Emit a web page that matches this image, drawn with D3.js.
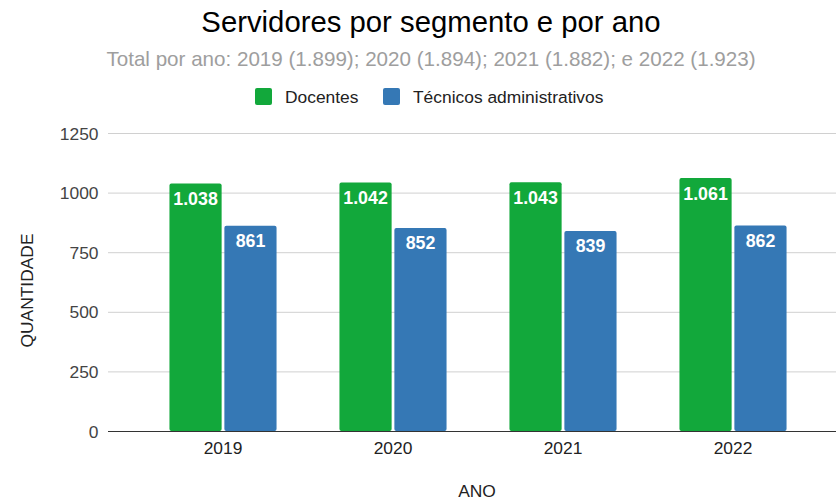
<!DOCTYPE html>
<html>
<head>
<meta charset="utf-8">
<script src="https://cdn.jsdelivr.net/npm/d3@7"></script>
<style>
  body { margin: 0; background: #fff; }
  text { font-family: Arial, "Liberation Sans", sans-serif; }
</style>
</head>
<body>
<div id="chart"></div>
<script>
// Data
var years = ["2019", "2020", "2021", "2022"];
var docentes = [1038, 1042, 1043, 1061];
var tecnicos = [861, 852, 839, 862];
var seriesNames = ["Docentes", "Técnicos administrativos"];
var seriesColors = ["#12a83b", "#3578b5"];
var yTicks = [0, 250, 500, 750, 1000, 1250];

var width = 836;
var height = 501;
var fontSize = 17.4;

var svg = d3.select("#chart")
  .append("svg")
  .attr("width", width)
  .attr("height", height);

// Titles
svg.append("text")
  .attr("x", 431).attr("y", 32)
  .attr("text-anchor", "middle")
  .attr("font-size", 29.3)
  .attr("fill", "#000")
  .text("Servidores por segmento e por ano");

svg.append("text")
  .attr("x", 431).attr("y", 66)
  .attr("text-anchor", "middle")
  .attr("font-size", 20.6)
  .attr("fill", "#9e9e9e")
  .text("Total por ano: 2019 (1.899); 2020 (1.894); 2021 (1.882); e 2022 (1.923)");

// Legend
var legendX = [255, 383];
seriesNames.forEach(function(name, i) {
  svg.append("rect")
    .attr("x", legendX[i]).attr("y", 88)
    .attr("width", 17).attr("height", 17)
    .attr("rx", 2)
    .attr("fill", seriesColors[i]);
  svg.append("text")
    .attr("x", legendX[i] + 30).attr("y", 102.5)
    .attr("font-size", fontSize)
    .attr("fill", "#222")
    .text(name);
});

// Scales
var yScale = d3.scaleLinear()
  .domain([0, 1250])
  .range([431, 133]);

var xScale = d3.scaleBand()
  .domain(years)
  .range([138, 818])
  .paddingInner(0.37)
  .paddingOuter(0.185);

var inner = d3.scaleBand()
  .domain([0, 1])
  .range([0, xScale.bandwidth()])
  .paddingInner(0.05);

// Gridlines
svg.append("g")
  .selectAll("line")
  .data(yTicks.slice(1))
  .enter()
  .append("line")
  .attr("x1", 108).attr("x2", 836)
  .attr("y1", function(d) { return yScale(d) + 0.5; })
  .attr("y2", function(d) { return yScale(d) + 0.5; })
  .attr("stroke", "#d0d0d0")
  .attr("stroke-width", 1);

// Y tick labels
svg.append("g")
  .selectAll("text")
  .data(yTicks)
  .enter()
  .append("text")
  .attr("x", 98.5)
  .attr("y", function(d) { return yScale(d) + 6.5; })
  .attr("text-anchor", "end")
  .attr("font-size", fontSize)
  .attr("fill", "#444")
  .text(function(d) { return d; });

// Bars
var values = [docentes, tecnicos];
var fmt = d3.formatLocale({ decimal: ",", thousands: ".", grouping: [3], currency: ["", ""] }).format(",d");

values.forEach(function(series, s) {
  var g = svg.append("g");
  g.selectAll("rect")
    .data(series)
    .enter()
    .append("rect")
    .attr("x", function(d, i) { return xScale(years[i]) + inner(s); })
    .attr("y", function(d) { return yScale(d); })
    .attr("width", inner.bandwidth())
    .attr("height", function(d) { return yScale(0) - yScale(d); })
    .attr("rx", 2)
    .attr("fill", seriesColors[s]);

  g.selectAll("text")
    .data(series)
    .enter()
    .append("text")
    .attr("x", function(d, i) { return xScale(years[i]) + inner(s) + inner.bandwidth() / 2; })
    .attr("y", function(d) { return yScale(d) + 21.5; })
    .attr("text-anchor", "middle")
    .attr("font-size", 17.8)
    .attr("font-weight", "bold")
    .attr("fill", "#fff")
    .text(function(d) { return fmt(d); });
});

// X axis baseline
svg.append("line")
  .attr("x1", 108).attr("x2", 836)
  .attr("y1", yScale(0) + 0.5).attr("y2", yScale(0) + 0.5)
  .attr("stroke", "#333")
  .attr("stroke-width", 1.2);

// X tick labels
svg.append("g")
  .selectAll("text")
  .data(years)
  .enter()
  .append("text")
  .attr("x", function(d) { return xScale(d) + xScale.bandwidth() / 2; })
  .attr("y", 454)
  .attr("text-anchor", "middle")
  .attr("font-size", fontSize)
  .attr("fill", "#222")
  .text(function(d) { return d; });

// Axis titles
svg.append("text")
  .attr("x", 477).attr("y", 497)
  .attr("text-anchor", "middle")
  .attr("font-size", fontSize)
  .attr("fill", "#222")
  .text("ANO");

svg.append("text")
  .attr("transform", "translate(33, 290.5)rotate(-90)")
  .attr("text-anchor", "middle")
  .attr("font-size", fontSize)
  .attr("fill", "#222")
  .text("QUANTIDADE");
</script>
</body>
</html>
